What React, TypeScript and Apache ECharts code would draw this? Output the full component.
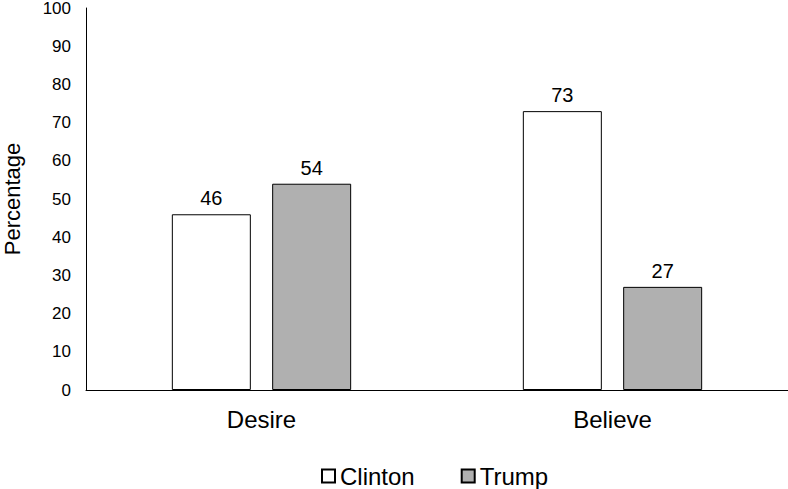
import React, { useEffect, useRef } from "react";
import * as echarts from "echarts";

const categories = ["Desire", "Believe"];
const clinton = [46, 73];
const trump = [54, 27];
const yTicks = { min: 0, max: 100, interval: 10 };

export default function App() {
  const ref = useRef<HTMLDivElement>(null);
  useEffect(() => {
    if (!ref.current) return;
    const chart = echarts.init(ref.current, null, { renderer: "svg" });
    const font = "Liberation Sans, Arial, sans-serif";
    chart.setOption({
      animation: false,
      textStyle: { fontFamily: font },
      grid: { left: 86, right: 0, top: 8, bottom: 99, containLabel: false, outerBoundsMode: "none" },
      legend: {
        bottom: 1,
        left: 321,
        padding: 0,
        itemWidth: 13,
        itemHeight: 13,
        itemGap: 46,
        icon: "rect",
        textStyle: { fontSize: 24, color: "#000", fontFamily: font },
        data: ["Clinton", "Trump"],
      },
      xAxis: {
        type: "category",
        data: categories,
        axisLine: { show: true, lineStyle: { color: "#000", width: 1 } },
        axisTick: { show: false },
        axisLabel: { fontSize: 24, color: "#000", margin: 17, fontFamily: font },
      },
      yAxis: {
        type: "value",
        min: yTicks.min,
        max: yTicks.max,
        interval: yTicks.interval,
        name: "Percentage",
        nameLocation: "middle",
        nameGap: 63,
        nameTextStyle: { fontSize: 22, color: "#000", fontFamily: font },
        axisLine: { show: true, lineStyle: { color: "#000", width: 1 } },
        axisTick: { show: false },
        splitLine: { show: false },
        axisLabel: { fontSize: 17, color: "#000", margin: 15, fontFamily: font },
      },
      series: [
        {
          name: "Clinton",
          type: "bar",
          data: clinton,
          barWidth: 79,
          barGap: "27%",
          itemStyle: { color: "#ffffff", borderColor: "#000", borderWidth: 1 },
          label: { show: true, position: "top", distance: 6, fontSize: 20, color: "#000", fontFamily: font },
        },
        {
          name: "Trump",
          type: "bar",
          data: trump,
          barWidth: 79,
          itemStyle: { color: "#b0b0b0", borderColor: "#000", borderWidth: 1 },
          label: { show: true, position: "top", distance: 6, fontSize: 20, color: "#000", fontFamily: font },
        },
      ],
    });
    return () => chart.dispose();
  }, []);
  return <div ref={ref} style={{ width: 788, height: 489, position: "absolute", left: 0, top: 0 }} />;
}
